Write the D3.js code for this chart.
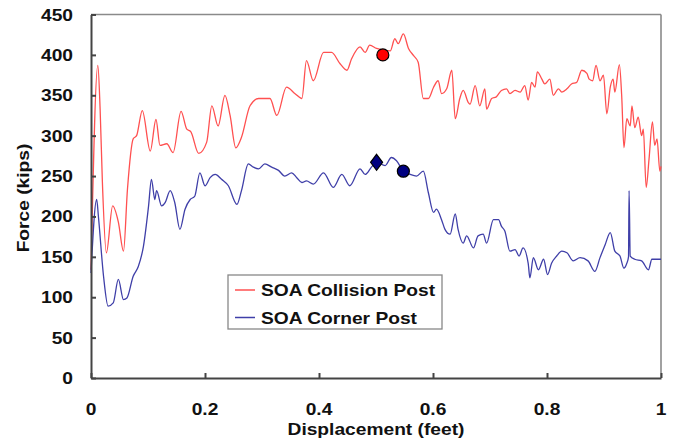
<!DOCTYPE html>
<html>
<head>
<meta charset="utf-8">
<script src="https://cdn.jsdelivr.net/npm/d3@7"></script>
<style>
  body { margin: 0; background: #fff; }
  text { font-family: "Liberation Sans", Arial, sans-serif; font-weight: bold; fill: #111; }
</style>
</head>
<body>
<div id="chart"></div>
<script>
// SOA Collision Post (red)
const collisionX = [0.000,0.012,0.016,0.020,0.027,0.038,0.048,0.057,0.064,0.074,0.080,0.090,0.104,0.114,0.121,0.133,0.144,0.158,0.168,0.175,0.189,0.203,0.212,0.223,0.235,0.244,0.254,0.264,0.279,0.294,0.314,0.326,0.343,0.358,0.370,0.378,0.390,0.408,0.422,0.437,0.449,0.457,0.472,0.481,0.489,0.501,0.525,0.533,0.539,0.548,0.557,0.566,0.574,0.583,0.592,0.601,0.609,0.615,0.624,0.633,0.639,0.647,0.653,0.662,0.665,0.674,0.682,0.691,0.694,0.703,0.711,0.720,0.729,0.735,0.744,0.753,0.761,0.767,0.773,0.779,0.783,0.791,0.796,0.805,0.811,0.820,0.826,0.835,0.843,0.852,0.861,0.870,0.874,0.880,0.886,0.893,0.899,0.905,0.911,0.916,0.919,0.927,0.931,0.935,0.940,0.946,0.949,0.954,0.960,0.966,0.969,0.974,0.979,0.985,0.989,0.993,0.998,1.000];
const collisionF = [134,387,333,242,155,213,193,157,234,296,300,331,281,320,288,290,279,330,308,305,278,292,337,312,350,325,285,298,337,346,346,325,360,352,346,393,368,403,403,389,381,395,410,403,412,408,405,420,414,426,408,399,391,346,346,360,368,352,358,381,321,346,356,341,339,362,337,358,333,346,348,356,358,352,356,354,362,344,366,360,379,370,364,370,350,358,354,358,364,366,381,377,370,368,387,368,375,327,360,370,354,388,350,285,321,312,337,310,323,300,308,236,271,317,288,296,256,262];

// SOA Corner Post (blue)
const cornerX = [0.000,0.010,0.013,0.022,0.030,0.039,0.048,0.057,0.063,0.074,0.083,0.092,0.101,0.106,0.112,0.115,0.124,0.130,0.139,0.147,0.156,0.165,0.174,0.182,0.191,0.200,0.209,0.218,0.229,0.241,0.256,0.264,0.276,0.285,0.294,0.305,0.317,0.329,0.340,0.352,0.361,0.370,0.378,0.390,0.408,0.425,0.440,0.454,0.472,0.481,0.492,0.501,0.516,0.527,0.536,0.548,0.560,0.571,0.583,0.592,0.601,0.606,0.615,0.621,0.630,0.639,0.644,0.653,0.659,0.671,0.679,0.688,0.694,0.706,0.715,0.720,0.726,0.735,0.744,0.751,0.758,0.767,0.770,0.776,0.785,0.794,0.801,0.808,0.817,0.826,0.835,0.846,0.858,0.872,0.884,0.893,0.902,0.911,0.919,0.928,0.935,0.940,0.943,0.944,0.946,0.954,0.966,0.978,0.984,0.992,1.000];
const cornerF = [130,221,200,126,89,93,122,97,99,126,138,163,213,246,221,232,213,217,232,217,184,209,221,225,254,238,248,252,246,238,215,232,265,261,259,265,261,257,250,254,248,242,244,240,254,236,252,238,259,252,261,267,263,273,269,256,252,250,256,229,205,209,196,184,178,203,184,167,176,161,176,178,167,196,196,188,182,157,159,151,161,142,124,149,134,147,128,142,151,157,155,145,149,145,132,149,165,180,157,151,136,142,150,232,151,147,145,134,147,147,147];

// marked points
const redDotX = [0.512], redDotF = [400];
const blueDiamondX = [0.501], blueDiamondF = [267];
const blueDotX = [0.548], blueDotF = [256];

const xTicks = [0, 0.2, 0.4, 0.6, 0.8, 1];
const xTickLabels = ["0", "0.2", "0.4", "0.6", "0.8", "1"];
const yTicks = [0, 50, 100, 150, 200, 250, 300, 350, 400, 450];
const seriesNames = ["SOA Collision Post", "SOA Corner Post"];

const width = 675, height = 444;
const plotL = 91, plotR = 661, plotT = 14.5, plotB = 378;
const stretch = 1.2;

const svg = d3.select("#chart").append("svg")
  .attr("width", width)
  .attr("height", height);

const x = d3.scaleLinear().domain([0, 1]).range([plotL, plotR]);
const y = d3.scaleLinear().domain([0, 450]).range([plotB, plotT]);

// stretched bold text, like the original bitmap
function label(txt, px, py, anchor, rotate) {
  const g = svg.append("g")
    .attr("transform", `translate(${px},${py})` + (rotate ? ` rotate(${rotate})` : "") + ` scale(${stretch},1)`);
  g.append("text")
    .attr("text-anchor", anchor)
    .style("font-size", "16px")
    .text(txt);
}

// frame (top / right lighter)
svg.append("line").attr("x1", plotL).attr("x2", plotR).attr("y1", plotT).attr("y2", plotT)
  .attr("stroke", "#8a8a8a").attr("stroke-width", 1.6);
svg.append("line").attr("x1", plotR).attr("x2", plotR).attr("y1", plotT).attr("y2", plotB)
  .attr("stroke", "#8a8a8a").attr("stroke-width", 1.6);

// curves
const line = d3.line().x(d => x(d[0])).y(d => y(d[1])).curve(d3.curveMonotoneX);
const collision = collisionX.map((v, i) => [v, collisionF[i]]);
const corner = cornerX.map((v, i) => [v, cornerF[i]]);

svg.append("path").datum(collision)
  .attr("d", line).attr("fill", "none")
  .attr("stroke", "#ff5050").attr("stroke-width", 1.3).attr("stroke-linejoin", "round");
svg.append("path").datum(corner)
  .attr("d", line).attr("fill", "none")
  .attr("stroke", "#3f3fa8").attr("stroke-width", 1.3).attr("stroke-linejoin", "round");

// axes
const yAxis = d3.axisLeft(y).tickValues(yTicks).tickSize(-5).tickSizeOuter(0).tickFormat("");
const xAxis = d3.axisBottom(x).tickValues(xTicks).tickSize(-5).tickSizeOuter(0).tickFormat("");
svg.append("g").attr("transform", `translate(${plotL},0)`).call(yAxis)
  .call(g => g.selectAll("line, path").attr("stroke", "#444").attr("stroke-width", 2));
svg.append("g").attr("transform", `translate(0,${plotB})`).call(xAxis)
  .call(g => g.selectAll("line, path").attr("stroke", "#444").attr("stroke-width", 2));

yTicks.forEach(t => label(String(t), 73, y(t) + 6, "end"));
xTicks.forEach((t, i) => label(xTickLabels[i], x(t), 415, "middle"));

label("Displacement (feet)", 376, 435, "middle");
label("Force (kips)", 29, 198, "middle", -90);

// markers
svg.selectAll(".rdot").data(redDotX).enter().append("circle")
  .attr("cx", d => x(d)).attr("cy", (d, i) => y(redDotF[i])).attr("r", 6)
  .attr("fill", "#ff0000").attr("stroke", "#000").attr("stroke-width", 1.2);
svg.selectAll(".bdot").data(blueDotX).enter().append("circle")
  .attr("cx", d => x(d)).attr("cy", (d, i) => y(blueDotF[i])).attr("r", 6)
  .attr("fill", "#000080").attr("stroke", "#000").attr("stroke-width", 1.2);
svg.selectAll(".bdia").data(blueDiamondX).enter().append("path")
  .attr("d", "M0,-8L6,0L0,8L-6,0Z")
  .attr("transform", (d, i) => `translate(${x(d)},${y(blueDiamondF[i])})`)
  .attr("fill", "#000080").attr("stroke", "#000").attr("stroke-width", 1.2);

// legend
const lg = { x: 228, y: 275, w: 214, h: 54 };
svg.append("rect").attr("x", lg.x).attr("y", lg.y).attr("width", lg.w).attr("height", lg.h)
  .attr("fill", "#fff").attr("stroke", "#888").attr("stroke-width", 1.3);
const legendColors = ["#ff5050", "#3f3fa8"];
seriesNames.forEach((name, i) => {
  const ly = 290 + i * 27.5;
  svg.append("line").attr("x1", 235).attr("x2", 255).attr("y1", ly).attr("y2", ly)
    .attr("stroke", legendColors[i]).attr("stroke-width", 1.5);
  label(name, 261, ly + 6, "start");
});
</script>
</body>
</html>
